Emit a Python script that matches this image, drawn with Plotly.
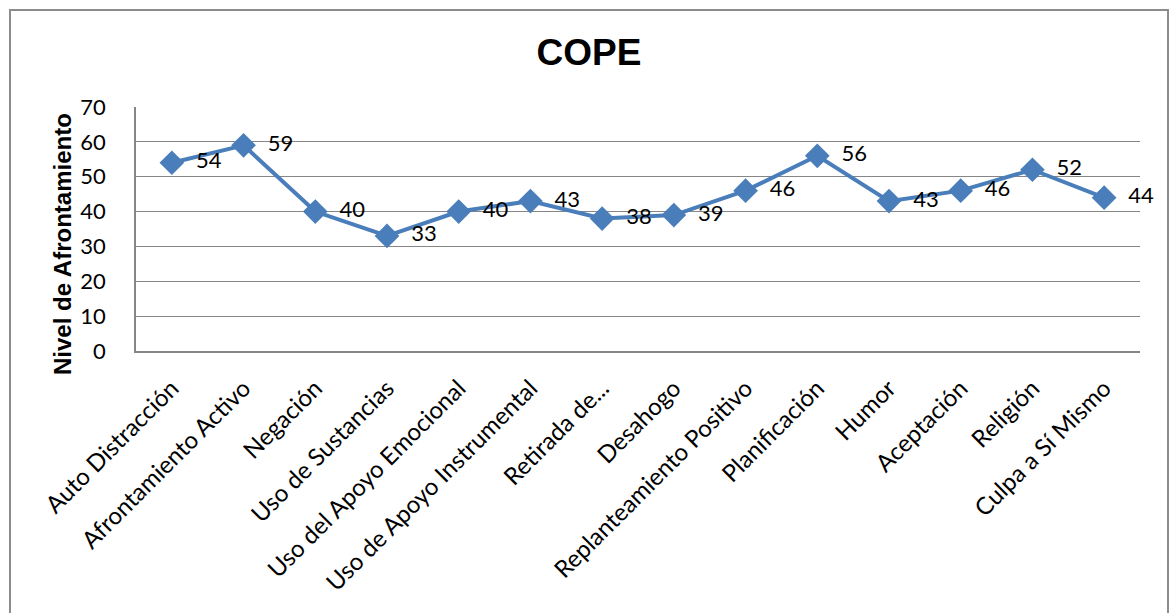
import plotly.graph_objects as go

categories = ["Auto Distracción", "Afrontamiento Activo", "Negación", "Uso de Sustancias",
              "Uso del Apoyo Emocional", "Uso de Apoyo Instrumental", "Retirada de...",
              "Desahogo", "Replanteamiento Positivo", "Planificación", "Humor",
              "Aceptación", "Religión", "Culpa a Sí Mismo"]
values = [54, 59, 40, 33, 40, 43, 38, 39, 46, 56, 43, 46, 52, 44]
y_ticks = [0, 10, 20, 30, 40, 50, 60, 70]

W, H = 1171, 613
L, R, T, B = 136, 1140, 107, 351

BLUE = "#4A7EBB"
GRID = "#868686"
FONT = "Lato, Carlito, Calibri, sans-serif"

fig = go.Figure()
fig.add_trace(go.Scatter(
    x=categories, y=values,
    mode="lines+markers+text",
    line=dict(color=BLUE, width=4),
    marker=dict(symbol="diamond", size=19, color=BLUE),
    text=["  " + str(v) for v in values],
    textposition="middle right",
    textfont=dict(family=FONT, size=22, color="#000000"),
    cliponaxis=False,
    showlegend=False,
))

pw = R - L
ph = B - T

def px_x(x):
    return (x - L) / pw

def px_y(y):
    return (B - y) / ph

fig.update_layout(
    width=W, height=H,
    margin=dict(l=L, r=W - R, t=T, b=H - B),
    paper_bgcolor="white", plot_bgcolor="white",
    title=dict(text="<b>COPE</b>", x=589 / W, xanchor="center",
               y=1 - 52 / H, yanchor="middle",
               font=dict(family="Liberation Sans, Arial, sans-serif", size=37, color="#000000")),
    xaxis=dict(
        type="category", tickangle=-45,
        tickfont=dict(family=FONT, size=24, color="#000000"),
        showgrid=False, showline=True, linecolor=GRID, linewidth=1.5,
        ticks="", range=[-0.5, len(categories) - 0.5], fixedrange=True,
        ticklabelshift=0, ticklabelstandoff=12,
    ),
    yaxis=dict(
        range=[0, 70], tickvals=y_ticks,
        tickfont=dict(family=FONT, size=22, color="#000000"),
        showgrid=True, gridcolor=GRID, gridwidth=1,
        showline=True, linecolor=GRID, linewidth=1.5,
        ticks="", ticklabelstandoff=24, zeroline=False, fixedrange=True,
    ),
    shapes=[dict(type="rect", xref="paper", yref="paper",
                 x0=px_x(10), x1=px_x(1168), y0=px_y(640), y1=px_y(10),
                 line=dict(color="#8C8C8C", width=2), fillcolor="rgba(0,0,0,0)",
                 layer="below")],
    annotations=[dict(text="<b>Nivel de Afrontamiento</b>", textangle=-90,
                      xref="paper", yref="paper", x=px_x(62), y=px_y(244),
                      xanchor="center", yanchor="middle", showarrow=False,
                      font=dict(family="Liberation Sans, Arial, sans-serif", size=24, color="#000000"))],
)

fig.write_html("out.html")
